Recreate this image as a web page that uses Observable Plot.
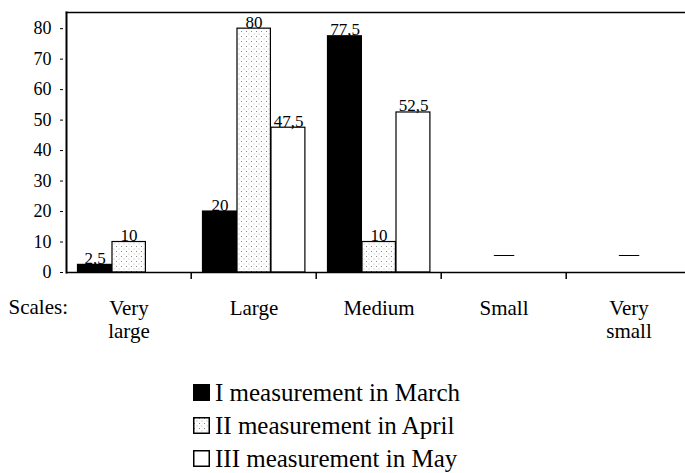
<!DOCTYPE html>
<html><head><meta charset="utf-8">
<script src="https://cdn.jsdelivr.net/npm/d3@7"></script>
<script src="https://cdn.jsdelivr.net/npm/@observablehq/plot@0.6"></script>
<style>
body{margin:0;background:#fff;font-family:"Liberation Serif","Times New Roman",Times,Tinos,"Noto Serif","DejaVu Serif",FreeSerif,serif;color:#000}
#legend{margin-left:193px;margin-top:31px;font-size:25px;line-height:33px}
.row{display:flex;align-items:center;height:33px;white-space:nowrap}
.row svg{margin-right:5px;flex:none}
</style></head><body>
<div id="chart"></div>
<div id="legend"></div>
<script>
// ---- data ----
const categories = ["Very large", "Large", "Medium", "Small", "Very small"];
const categoryLabels = ["Very\nlarge", "Large", "Medium", "Small", "Very\nsmall"];
const seriesNames = ["I measurement in March", "II measurement in April", "III measurement in May"];
const march = [2.5, 20, 77.5, null, null];
const april = [10, 80, 10, null, null];
const may = [0, 47.5, 52.5, null, null];
const emptyCategories = ["Small", "Very small"];
const yTicks = [0, 10, 20, 30, 40, 50, 60, 70, 80];
const axisTitle = "Scales:";

// ---- styling ----
const FONT = "'Liberation Serif', 'Times New Roman', Times, Tinos, 'Noto Serif', 'DejaVu Serif', FreeSerif, serif";
const fills = ["#000", "url(#stipple)", "#fff"];
const insets = [[11.5, 79.6], [46, 45.6], [80, 11.1]];
const labelDx = [-34, 0, 34.5];
const fmt = v => String(v).replace(".", ",");

const seriesValues = [march, april, may];
const rows = [];
seriesValues.forEach((vals, k) => vals.forEach((v, i) => {
  if (v != null) rows.push({category: categories[i], series: k, value: v});
}));
const catRows = categories.map((c, i) => ({category: c, label: categoryLabels[i]}));

const marks = [];
[0, 1, 2].forEach(k => {
  marks.push(Plot.barY(rows.filter(r => r.series === k), {
    x: "category", y: "value", fill: fills[k], stroke: "#000", strokeWidth: 1.2,
    insetLeft: insets[k][0], insetRight: insets[k][1]
  }));
});
[0, 1, 2].forEach(k => {
  marks.push(Plot.text(rows.filter(r => r.series === k && r.value > 0), {
    x: "category", y: "value", text: d => fmt(d.value), dx: labelDx[k], dy: -1,
    lineAnchor: "bottom", fontSize: 17, fontFamily: FONT
  }));
});

const chart = Plot.plot({
  width: 685, height: 345,
  marginTop: 12, marginLeft: 66, marginRight: 0, marginBottom: 73,
  style: {fontFamily: FONT, fontSize: "18px", color: "#000", background: "#fff", overflow: "visible"},
  x: {type: "band", domain: categories, range: [64, 692], padding: 0},
  y: {domain: [0, 85.3]},
  marks: [
    ...marks,
    Plot.text(emptyCategories, {x: d => d, frameAnchor: "bottom", text: () => "\u2014", dy: -12, fontSize: 20, fontFamily: FONT}),
    Plot.ruleY([0], {strokeWidth: 1.5}),
    Plot.frame({anchor: "left", strokeWidth: 2}),
    Plot.frame({anchor: "top", strokeWidth: 1.5}),
    Plot.axisY({ticks: yTicks, tickSize: 3, tickPadding: 9, dx: -3, fontSize: 18, fontFamily: FONT, label: null}),
    Plot.axisX({ticks: categories.slice(1), tickSize: 7, tickFormat: () => "", dx: -62.8, label: null, strokeWidth: 1.5}),
    Plot.text(catRows, {x: "category", text: "label", frameAnchor: "bottom", lineAnchor: "top", dy: 27, fontSize: 21, lineHeight: 1.07, fontFamily: FONT}),
    Plot.text([axisTitle], {frameAnchor: "bottom-left", textAnchor: "start", lineAnchor: "top", dx: -58, dy: 27, fontSize: 21, fontFamily: FONT})
  ]
});

const ns = "http://www.w3.org/2000/svg";
const defs = document.createElementNS(ns, "defs");
defs.innerHTML = '<pattern id="stipple" width="5" height="5" patternUnits="userSpaceOnUse">' +
  '<rect width="5" height="5" fill="#fff"/><rect x="1" y="1" width="1" height="1" fill="#888"/>' +
  '<rect x="3.5" y="3.5" width="1" height="1" fill="#bbb"/></pattern>';
chart.insertBefore(defs, chart.firstChild);
document.getElementById("chart").appendChild(chart);

const legend = document.getElementById("legend");
seriesNames.forEach((name, k) => {
  const row = document.createElement("div");
  row.className = "row";
  row.innerHTML = `<svg width="17" height="17"><rect x="0.75" y="0.75" width="15.5" height="15.5" fill="${fills[k]}" stroke="#000" stroke-width="1.5"/></svg><span>${name}</span>`;
  legend.appendChild(row);
});
</script>
</body></html>
